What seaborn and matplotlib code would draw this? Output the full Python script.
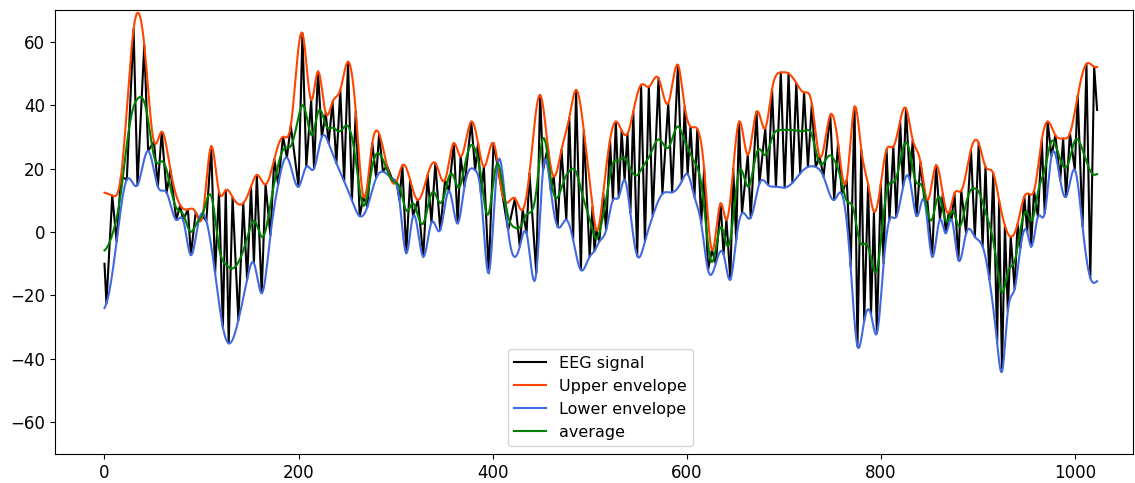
import numpy as np
import pandas as pd
import matplotlib
matplotlib.use("Agg")
import matplotlib.pyplot as plt
import seaborn as sns

# ---- data: local extrema of the EEG signal ----
# signal end points
start_x, start_y = 0, -10.0
end_x, end_y = 1023, 38.5

# local maxima (peaks) of the signal
peak_x = [8, 17, 30, 41, 51, 59, 68, 78, 86, 94, 101, 110, 118, 125, 132, 143, 151, 157, 166, 175,
          184, 192, 204, 213, 220, 228, 235, 243, 251, 259, 267, 276, 283, 291, 301, 307, 315, 323, 333, 341,
          351, 360, 367, 378, 385, 391, 401, 410, 423, 431, 438, 449, 457, 463, 471, 479, 486, 494, 503, 507,
          514, 521, 527, 533, 539, 545, 553, 561, 571, 581, 591, 598, 604, 611, 618, 626, 635, 641, 648, 654,
          663, 672, 681, 688, 697, 705, 713, 721, 729, 737, 748, 756, 765, 773, 780, 787, 793, 800, 806, 813,
          820, 826, 833, 841, 848, 857, 864, 870, 876, 883, 893, 901, 908, 916, 922, 928, 934, 941, 948, 953,
          958, 966, 972, 980, 988, 995, 1003, 1012, 1020]
peak_y = [11.5, 17.5, 64, 59, 28.5, 31.6, 19.5, 8.5, 7.1, 6.2, 5, 27, 12.7, 13.2, 11, 9.1, 14.3, 18, 15, 23,
          30, 33.5, 62.7, 41.6, 50.6, 37.5, 41, 44.8, 53.7, 38, 11.1, 28, 31, 21, 15.9, 21, 16.4, 10.1, 18, 21.7,
          16.4, 28, 23.8, 34.8, 28, 20.6, 28, 12, 10.6, 7, 18.5, 43.2, 26.9, 17.5, 25.9, 36, 44.8, 32, 8, 0.6,
          12.2, 29, 34.8, 32, 31, 38, 46.4, 45.8, 48.5, 40.6, 52.7, 39.5, 33.2, 32.5, 20, -5.7, 9, 3.8, 20, 34.8,
          24.3, 37.9, 32.7, 45, 50.3, 50, 47, 44, 40.5, 23.8, 36.9, 28, 16.4, 39.5, 25.9, 15, 6.4, 15, 26, 26.9,
          35, 39, 29, 22, 10.1, 21, 12, 6, 12.2, 13, 26, 28, 20.6, 18.5, 10, 2, -1.5, 2.5, 11.1, 12,
          13, 29, 34.8, 30.5, 29.5, 31.1, 43, 53, 52.1]

# local minima (troughs) of the signal
trough_x = [2, 12.5, 23, 34, 45, 55, 64, 74, 81, 89, 97.5, 105, 114, 122, 128, 138, 147, 154, 162, 171,
            179, 188, 200, 208, 216, 224, 231, 239, 247, 255, 263, 271, 280, 287, 296, 304, 311, 318, 328.5, 337,
            346, 355, 364, 371, 382, 388, 396, 405, 416, 428, 435, 445, 452, 460, 467, 476, 483, 491, 500, 505,
            510, 517, 524, 530, 536, 542, 549, 557, 565, 575, 585, 595, 601, 608, 615, 622, 630, 638, 645, 651,
            657, 666, 675, 684, 692, 701, 709, 717, 725, 733, 741, 752, 760, 769, 776, 783, 790, 796, 803, 809,
            816, 823, 830, 837, 845, 853, 861, 867, 873, 880, 888, 897, 905, 912, 920, 925, 931, 938, 944, 951,
            955, 962, 969, 976, 985, 991, 1000, 1008, 1016]
trough_y = [-22.5, -3, 16.5, 14.8, 25.6, 14.3, 12.4, 3.8, 3.8, -7.3, 4, 3.5, -13, -30, -35.1, -27.8, -15, -9.8, -19.3, -1,
            15, 23.5, 14.3, 20.6, 20, 30, 28, 21.7, 16, 10, 5, 8, 17, 19, 17, 10, -6.7, 5, -7.8, 3,
            0.6, 13, 2.7, 14.3, 19.5, 12, -13, 21, 0.6, -4.6, -0.4, -13, 19.6, 13, 1.7, 3.8, -2.5, -12, -7.8, -6,
            -3, 0.6, 10.1, 11, 16.4, 6, -7.5, -3, 5, 12, 12.5, 16, 18.2, 11.1, 2.7, -12, -10, -7, -15, -2.5,
            5.9, 4.5, 15.3, 14.8, 14.3, 14, 15.5, 18.5, 20.5, 20.5, 17.5, 10.1, 12, -11, -36, -28, -26, -32, -10, 3.8,
            4.8, 14.3, 16.4, 5, 10, -7.8, 4, -0.4, 4, -8.8, -0.4, -1.5, -4.6, -15, -35, -44, -25, -18, -5, 0,
            -4.6, 4.8, 5.9, 24, 16.4, 11.1, 19.6, 1.7, -14.5]

# envelope values at the two ends of the record
upper_edge_y = [12.4, 52.0]
lower_edge_y = [-24.0, -15.5]


def natural_spline(xk, yk, xq):
    xk = np.asarray(xk, float)
    yk = np.asarray(yk, float)
    n = len(xk)
    h = np.diff(xk)
    A = np.zeros((n, n))
    b = np.zeros(n)
    A[0, 0] = 1.0
    A[-1, -1] = 1.0
    for i in range(1, n - 1):
        A[i, i - 1] = h[i - 1]
        A[i, i] = 2 * (h[i - 1] + h[i])
        A[i, i + 1] = h[i]
        b[i] = 3 * ((yk[i + 1] - yk[i]) / h[i] - (yk[i] - yk[i - 1]) / h[i - 1])
    c = np.linalg.solve(A, b)
    bb = (yk[1:] - yk[:-1]) / h - h * (2 * c[:-1] + c[1:]) / 3
    d = (c[1:] - c[:-1]) / (3 * h)
    idx = np.clip(np.searchsorted(xk, xq, side="right") - 1, 0, n - 2)
    t = xq - xk[idx]
    return yk[idx] + bb[idx] * t + c[idx] * t ** 2 + d[idx] * t ** 3


# signal polyline through its extrema
ext = sorted(list(zip(peak_x, peak_y)) + list(zip(trough_x, trough_y)))
sig_x = np.array([start_x] + [p[0] for p in ext] + [end_x], float)
sig_y = np.array([start_y] + [p[1] for p in ext] + [end_y], float)

t = np.arange(0, end_x + 1)
upper = natural_spline([start_x] + peak_x + [end_x], [upper_edge_y[0]] + peak_y + [upper_edge_y[1]], t)
lower = natural_spline([start_x] + trough_x + [end_x], [lower_edge_y[0]] + trough_y + [lower_edge_y[1]], t)
avg = (upper + lower) / 2

plt.rcParams["font.size"] = 12

fig = plt.figure(figsize=(11.35, 4.83), dpi=100)
ax = fig.add_axes([55 / 1135, 1 - 454 / 483, (1133 - 55) / 1135, (454 - 10) / 483])

sns.lineplot(x=sig_x, y=sig_y, ax=ax, color="black", linewidth=1.5, label="EEG signal")
sns.lineplot(x=t, y=upper, ax=ax, color="orangered", linewidth=1.5, label="Upper envelope")
sns.lineplot(x=t, y=lower, ax=ax, color="royalblue", linewidth=1.5, label="Lower envelope")
sns.lineplot(x=t, y=avg, ax=ax, color="green", linewidth=1.5, label="average")

ax.set_xlim(-51, 1060)
ax.set_ylim(-70, 70)
ax.set_xticks([0, 200, 400, 600, 800, 1000])
ax.set_yticks([-60, -40, -20, 0, 20, 40, 60])
ax.tick_params(labelsize=12)
ax.legend(loc="lower center", bbox_to_anchor=(0.506, 0.0), fontsize=11.5)

fig.savefig("out.png", dpi=100)
